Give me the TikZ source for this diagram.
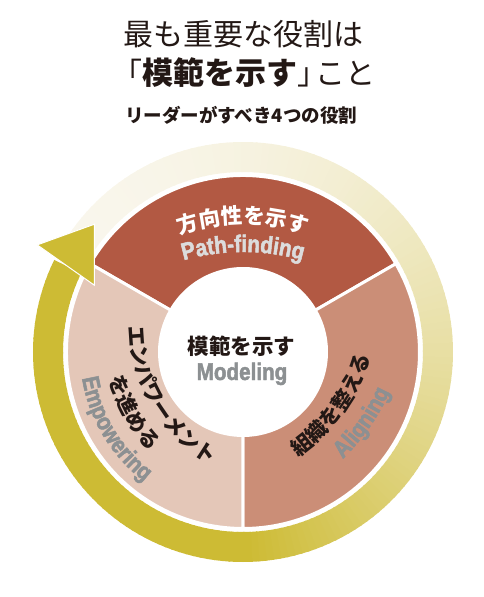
\documentclass[tikz,border=0pt]{standalone}
\usepackage{fontspec}
\newfontfamily\jpfont{Noto Sans CJK JP}
\newfontfamily\latfont[FakeStretch=0.86, FakeBold=2]{Liberation Sans Bold}
\usetikzlibrary{decorations.text}
\definecolor{ringcream}{RGB}{249,246,236}
\definecolor{ringolive}{RGB}{205,187,52}
\definecolor{pathred}{RGB}{178,89,67}
\definecolor{alignrose}{RGB}{203,142,119}
\definecolor{powerpink}{RGB}{228,199,184}
\definecolor{inkblack}{RGB}{35,24,21}
\definecolor{rolegrey}{RGB}{140,144,146}
\definecolor{pathgrey}{RGB}{220,220,220}
\newcommand\pathjp{\jpfont\bfseries\fontsize{21.5}{21.5}\selectfont\color{white}}
\newcommand\pathlat{\latfont\fontsize{24}{24}\selectfont\color{pathgrey}}
\newcommand\rolejp{\jpfont\bfseries\fontsize{21}{21}\selectfont\color{inkblack}}
\newcommand\rolelat{\latfont\fontsize{24}{24}\selectfont\color{rolegrey}}
\tikzset
{
    segment/.style = {draw=white, line width=3pt},
    arctext/.style = {decorate, decoration={text along path, text align=center, text={#1}}},
    jptext/.style = {font=\jpfont\fontsize{#1}{#1}\selectfont, text=inkblack, inner sep=0pt}
}
\begin{document}
\begin{tikzpicture}[x=1pt, y=1pt]
\useasboundingbox (-243,-245) rectangle (240,352);
\fill[segment, fill=pathred] (30:176.5) arc[start angle=30, end angle=150, radius=176.5] -- (150:83.5) arc[start angle=150, end angle=30, radius=83.5] -- cycle;
\fill[segment, fill=alignrose] (-90:176.5) arc[start angle=-90, end angle=30, radius=176.5] -- (30:83.5) arc[start angle=30, end angle=-90, radius=83.5] -- cycle;
\fill[segment, fill=powerpink] (150:176.5) arc[start angle=150, end angle=270, radius=176.5] -- (270:83.5) arc[start angle=270, end angle=150, radius=83.5] -- cycle;
\foreach \i in {0,...,177}
{
    \pgfmathsetmacro\ang{150-2*\i}
    \pgfmathsetmacro\mix{min(100,100*(\i/119)^2)}
    \fill[ringolive!\mix!ringcream] (\ang+0.5:180) arc[start angle=\ang+0.5, end angle=\ang-2, radius=180] -- (\ang-2:210) arc[start angle=\ang-2, end angle=\ang+0.5, radius=210] -- cycle;
}
\fill[ringolive, draw=white, line width=1pt] (139.3:196) -- (152.5:232) -- (155.8:163) -- cycle;
\path[arctext={|\pathjp|方向性を示す}] (0,-64) ++(150:192) arc[start angle=150, end angle=30, radius=192];
\path[arctext={|\pathlat|Path-finding}] (0,-118) ++(140:218) arc[start angle=140, end angle=40, radius=218];
\path[arctext={|\rolejp|組織を整える}] (-53,50) ++(-80:189) arc[start angle=-80, end angle=8, radius=189];
\path[arctext={|\rolelat|Aligning}] (-53,50) ++(-65:219) arc[start angle=-65, end angle=-5, radius=219];
\path[arctext={|\rolejp|エンパワーメント}] (44,26) ++(170.5:158) arc[start angle=170.5, end angle=250.5, radius=158];
\path[arctext={|\rolejp|を進める}] (44,26) ++(189.4:186) arc[start angle=189.4, end angle=229.4, radius=186];
\path[arctext={|\rolelat|Empowering}] (0,0) ++(181:163) arc[start angle=181, end angle=241, radius=163];
\node[jptext=21.5, font=\jpfont\bfseries\fontsize{21.5}{21.5}\selectfont] (model) at (-1.5,6) {模範を示す};
\node[font=\latfont\fontsize{24}{24}\selectfont, text=rolegrey, anchor=base, inner sep=0pt] (modeling) at (-1,-28) {Modeling};
\node[jptext=30] (title) at (1,317.5) {最も重要な役割は};
\node[jptext=30] (subject) at (1,279) {「{\bfseries\fontsize{31}{31}\selectfont 模範を示す}」\hspace{-13pt}こと};
\node[jptext=18.5, font=\jpfont\bfseries\fontsize{18.5}{18.5}\selectfont] (roles) at (-2,237) {リーダーがすべき4つの役割};
\end{tikzpicture}
\end{document}
